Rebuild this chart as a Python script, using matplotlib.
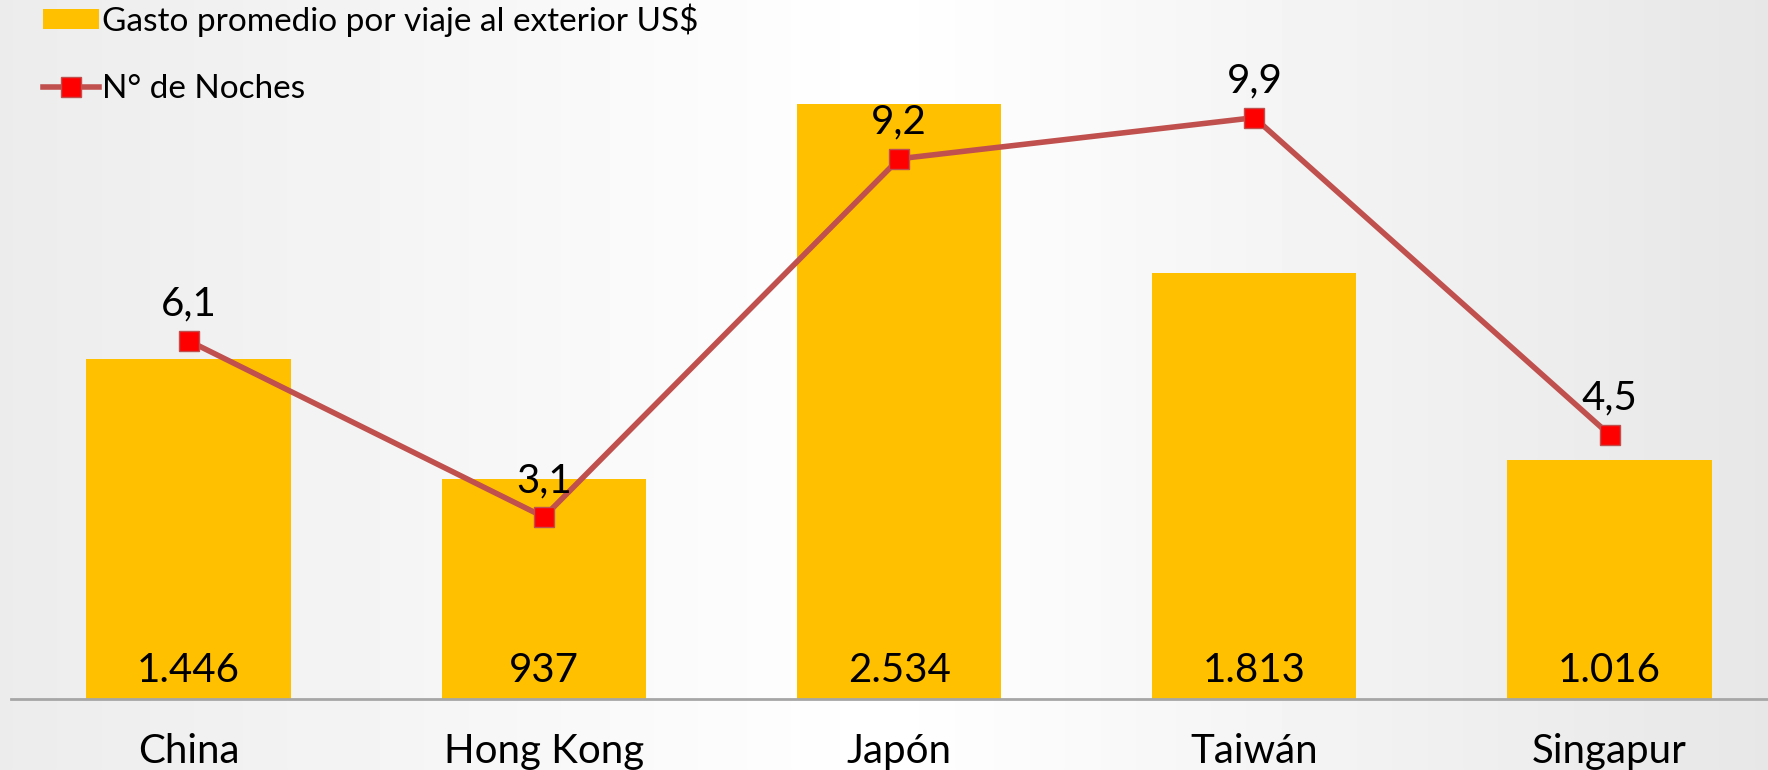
import numpy as np
import matplotlib.pyplot as plt
from matplotlib.patches import Patch
from matplotlib.lines import Line2D

plt.rcParams['font.family'] = ['Lato', 'DejaVu Sans']

paises = ["China", "Hong Kong", "Japón", "Taiwán", "Singapur"]
gasto = [1446, 937, 2534, 1813, 1016]
noches = [6.1, 3.1, 9.2, 9.9, 4.5]

bar_color = "#FFC000"
line_color = "#C0504D"

fig = plt.figure(figsize=(17.68, 7.70), dpi=100)

# soft grey-white-grey backdrop
bg = fig.add_axes([0, 0, 1, 1], zorder=0)
xs = np.linspace(0, 1, 400)
shade = np.interp(xs, [0, 0.5, 1], [0.925, 1.0, 0.905])
grad = np.tile(shade, (50, 1))
bg.imshow(grad, cmap="gray", vmin=0, vmax=1, aspect="auto", extent=[0, 1, 0, 1])
bg.set_xlim(0, 1)
bg.set_ylim(0, 1)
bg.axis("off")

ax = fig.add_axes([11 / 1768, 71 / 770, 1757 / 1768, 699 / 770], zorder=1)
ax.patch.set_visible(False)
x = np.arange(len(paises))

ax.bar(x, gasto, width=0.575, color=bar_color, zorder=2)
ax.set_xlim(-0.5, 4.446)
ymax = 2976
ax.set_ylim(0, ymax)

for i, v in enumerate(gasto):
    ax.annotate(f"{v:,}".replace(",", "."), (i, 0), xytext=(0, 12.2),
                textcoords="offset points", ha="center", va="baseline",
                fontsize=29, color="black", zorder=5)

for i, name in enumerate(paises):
    ax.annotate(name, (i, 0), xytext=(0, -46), textcoords="offset points",
                ha="center", va="baseline", fontsize=29, color="black",
                annotation_clip=False)

for s in ["top", "right", "left"]:
    ax.spines[s].set_visible(False)
ax.spines["bottom"].set_color("#A6A6A6")
ax.spines["bottom"].set_linewidth(2)
ax.set_xticks([])
ax.set_yticks([])

ax2 = ax.twinx()
ax2.set_ylim(0, ymax / 250)
ax2.plot(x, noches, color=line_color, lw=4, marker="s", markersize=14,
         markerfacecolor="#FF0000", markeredgecolor=line_color,
         markeredgewidth=1, zorder=3)
for i, v in enumerate(noches):
    ax2.annotate(f"{v:.1f}".replace(".", ","), (i, v), xytext=(0, 17.9),
                 textcoords="offset points", ha="center", va="baseline",
                 fontsize=29, color="black")
ax2.axis("off")

handles = [
    Patch(facecolor=bar_color, edgecolor="none"),
    Line2D([], [], color=line_color, lw=4, marker="s", markersize=14,
           markerfacecolor="#FF0000", markeredgecolor=line_color),
]
labels = ["Gasto promedio por viaje al exterior US$", "N° de Noches"]
fig.legend(handles, labels, loc="upper left", bbox_to_anchor=(40 / 1768, 1.0),
           frameon=False, fontsize=24, handlelength=1.67, handleheight=0.55,
           handletextpad=0.1, labelspacing=1.1, borderpad=0.1,
           borderaxespad=0)

fig.savefig("out.png", dpi=100)
